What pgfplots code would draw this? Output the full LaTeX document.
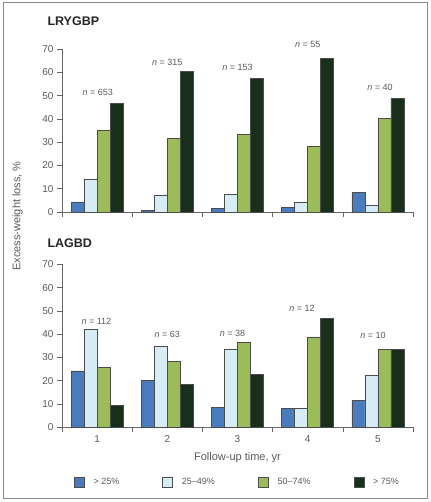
\documentclass[border=0pt]{standalone}
\usepackage{pgfplots}
\pgfplotsset{compat=1.18}
\usepackage{fontspec}
\setmainfont{Liberation Sans}
\definecolor{cA}{HTML}{4A7CBD}
\definecolor{cB}{HTML}{D6EDF6}
\definecolor{cC}{HTML}{9CBC5A}
\definecolor{cD}{HTML}{18301B}
\definecolor{txt}{HTML}{595959}
\definecolor{ax}{HTML}{666666}
\definecolor{frm}{HTML}{8A8A8A}
\pgfplotsset{panel/.style={
  scale only axis, width=351pt, height=163pt,
  xmin=0.5, xmax=5.5, ymin=0, ymax=70,
  ytick={0,10,...,70},
  xtick={1,2,3,4,5},
  minor xtick={0.5,1.5,...,5.5},
  axis x line*=bottom, axis y line*=left,
  axis line style={ax, line width=0.6pt, -},
  tick style={ax, line width=0.6pt},
  major x tick style={draw=none},
  tick align=outside,
  major tick length=5pt, minor tick length=5pt,
  ybar=0pt, bar width=13pt,
  /pgf/number format/assume math mode=true,
  tick label style={font=\fontsize{10}{12}\selectfont, text=txt},
  legend image code/.code={\draw[#1] (0pt,-5pt) rectangle (10pt,5pt);},
  clip=false,
}}
\tikzset{bars/.style={draw=black!70, line width=0.6pt},
  nlab/.style={font=\fontsize{9}{11}\selectfont, text=txt}}
\begin{document}
\begin{tikzpicture}
\useasboundingbox (0,0) rectangle (430pt,502pt);
\draw[frm, line width=1pt] (3pt,3pt) rectangle (427pt,499pt);
\node[anchor=west, font=\bfseries\fontsize{12.5}{14}\selectfont, text=black!85] at (44pt,481pt) {LRYGBP};
\node[anchor=west, font=\bfseries\fontsize{12.5}{14}\selectfont, text=black!85] at (44pt,259pt) {LAGBD};
\node[rotate=90, font=\fontsize{11}{13}\selectfont, text=txt] at (17.5pt,286pt) {Excess-weight loss, \%};
\node[font=\fontsize{11}{13}\selectfont, text=txt] at (237.5pt,44pt) {Follow-up time, yr};

\begin{axis}[panel, at={(62pt,290pt)}, anchor=south west, xticklabels={}]
\addplot[bars, fill=cA] coordinates {(1,4.3) (2,0.6) (3,1.4) (4,1.9) (5,8.3)};
\addplot[bars, fill=cB] coordinates {(1,14.1) (2,7.2) (3,7.7) (4,4.3) (5,2.7)};
\addplot[bars, fill=cC] coordinates {(1,35.2) (2,31.7) (3,33.4) (4,28.0) (5,40.2)};
\addplot[bars, fill=cD] coordinates {(1,46.6) (2,60.5) (3,57.4) (4,66.0) (5,48.8)};
\node[nlab] at (axis cs:1.01,51.2) {\textit{n} = 653};
\node[nlab] at (axis cs:2.0,64.2) {\textit{n} = 315};
\node[nlab] at (axis cs:3.0,62.0) {\textit{n} = 153};
\node[nlab] at (axis cs:4.0,72.0) {\textit{n} = 55};
\node[nlab] at (axis cs:5.03,53.4) {\textit{n} = 40};
\end{axis}

\begin{axis}[panel, at={(62pt,74.7pt)}, anchor=south west,
  legend columns=4,
  legend style={draw=none, fill=none, at={(0.5,0)}, anchor=center, yshift=-55pt,
    font=\fontsize{9}{11}\selectfont, text=txt,
    /tikz/every odd column/.append style={column sep=7pt},
    /tikz/every even column/.append style={column sep=41pt}},
  ]
\addplot[bars, fill=cA] coordinates {(1,24.2) (2,20.2) (3,8.6) (4,8.0) (5,11.7)};
\addplot[bars, fill=cB] coordinates {(1,42.2) (2,34.6) (3,33.6) (4,8.0) (5,22.5)};
\addplot[bars, fill=cC] coordinates {(1,25.6) (2,28.3) (3,36.4) (4,38.8) (5,33.5)};
\addplot[bars, fill=cD] coordinates {(1,9.4) (2,18.5) (3,22.6) (4,46.7) (5,33.5)};
\legend{> 25\%, 25--49\%, 50--74\%, > 75\%}
\node[nlab] at (axis cs:0.99,45.3) {\textit{n} = 112};
\node[nlab] at (axis cs:2.0,40.1) {\textit{n} = 63};
\node[nlab] at (axis cs:2.93,40.3) {\textit{n} = 38};
\node[nlab] at (axis cs:3.92,51.1) {\textit{n} = 12};
\node[nlab] at (axis cs:4.93,39.6) {\textit{n} = 10};
\end{axis}
\end{tikzpicture}
\end{document}
